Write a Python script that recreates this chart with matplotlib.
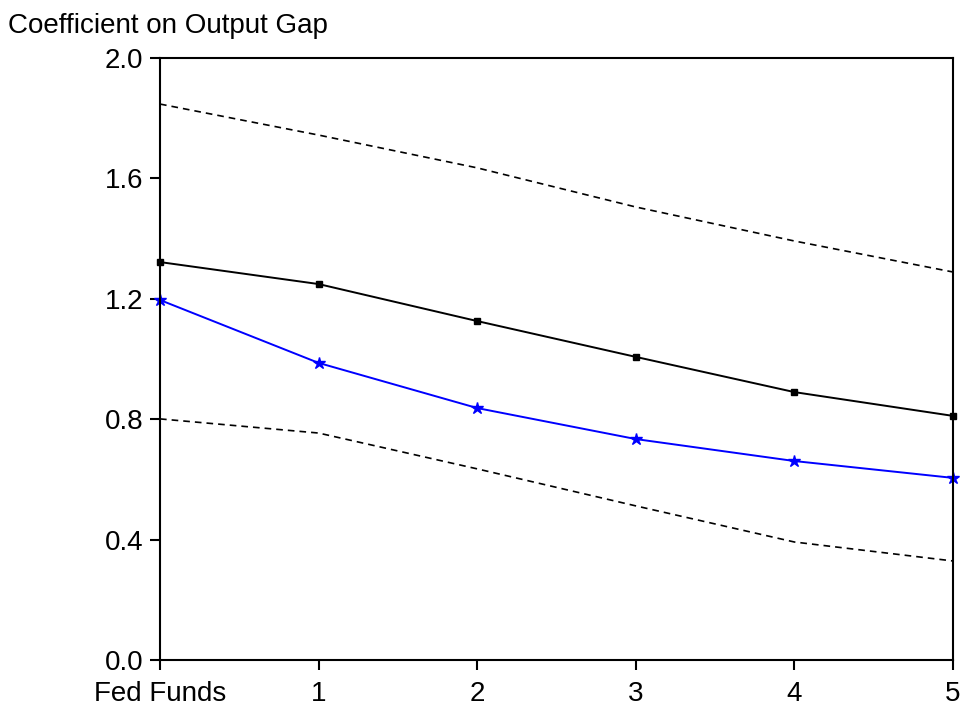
import numpy as np
import matplotlib.pyplot as plt

plt.rcParams['font.family'] = ['Liberation Sans', 'DejaVu Sans']

# horizons: fed funds, then 1..5
horizon = [0, 1, 2, 3, 4, 5]
xlabels = ['Fed Funds', '1', '2', '3', '4', '5']

coef = [1.322, 1.249, 1.126, 1.007, 0.890, 0.811]
upper = [1.847, 1.744, 1.635, 1.505, 1.392, 1.289]
lower = [0.801, 0.754, 0.635, 0.512, 0.392, 0.329]
coef_alt = [1.196, 0.987, 0.837, 0.734, 0.661, 0.605]

fig = plt.figure(figsize=(9.63, 7.08), dpi=100)
ax = fig.add_axes([160/963, 48/708, 793/963, 602/708])

ax.plot(horizon, upper, color='black', ls=(0, (4, 3)), lw=1.2, clip_on=False)
ax.plot(horizon, lower, color='black', ls=(0, (4, 3)), lw=1.2, clip_on=False)
ax.plot(horizon, coef, color='black', lw=1.4, marker='s', ms=4, clip_on=False)
ax.plot(horizon, coef_alt, color='#0000ff', lw=1.4, marker='*', ms=9, clip_on=False)

ax.set_xlim(0, 5)
ax.set_ylim(0, 2.0)
ax.set_xticks(horizon)
ax.set_xticklabels(xlabels)
ax.set_yticks(np.arange(0, 2.01, 0.4))
ax.set_yticklabels(['0.0', '0.4', '0.8', '1.2', '1.6', '2.0'])
ax.tick_params(direction='out', length=7, width=1.5, labelsize=20, colors='black')
ax.tick_params(axis='y', pad=5)
ax.tick_params(axis='x', pad=8)
for s in ax.spines.values():
    s.set_linewidth(1.5)

fig.text(8/963, 1 - 33/708, 'Coefficient on Output Gap', fontsize=20, ha='left', va='baseline')

fig.savefig('out.png', dpi=100)
